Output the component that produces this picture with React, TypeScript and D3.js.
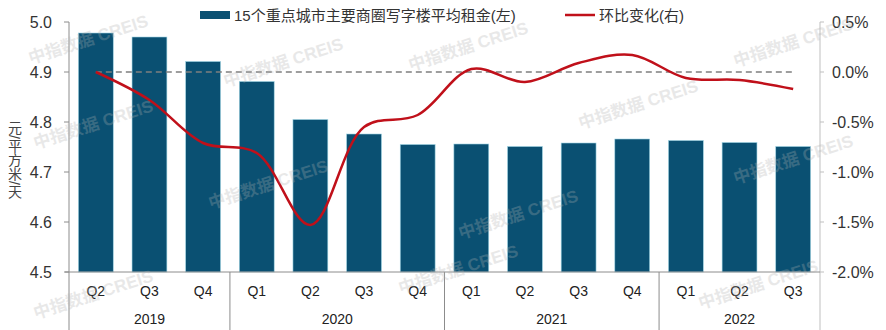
import React from "react";
import * as d3 from "d3";

const quarters = ["Q2", "Q3", "Q4", "Q1", "Q2", "Q3", "Q4", "Q1", "Q2", "Q3", "Q4", "Q1", "Q2", "Q3"];
const years = ["2019", "2020", "2021", "2022"];
const yearSpans = [3, 4, 4, 3];
const rent = [4.978, 4.970, 4.921, 4.881, 4.805, 4.776, 4.755, 4.756, 4.751, 4.758, 4.766, 4.763, 4.759, 4.751];
const change = [0.0, -0.28, -0.71, -0.81, -1.53, -0.55, -0.43, 0.03, -0.10, 0.09, 0.17, -0.06, -0.08, -0.17];
const leftTicks = [4.5, 4.6, 4.7, 4.8, 4.9, 5.0];
const rightTicks = [0.5, 0.0, -0.5, -1.0, -1.5, -2.0];
const barLabel = "15个重点城市主要商圈写字楼平均租金(左)";
const lineLabel = "环比变化(右)";
const yTitle = "元/平方米/天";
const watermarks = [
  [90, 45], [285, 68], [470, 52], [95, 130], [270, 190], [460, 275], [640, 110], [795, 48], [795, 165], [95, 300], [760, 290], [520, 220],
];

const W = 886, H = 330;
const L = 69, R = 820, T = 22, B = 272;
const FONT = "'Liberation Sans', Arial, 'Noto Sans CJK SC', sans-serif";

export default function App() {
  const keys = quarters.map((_, i) => String(i));
  const x = d3.scaleBand<string>().domain(keys).range([L, R]).paddingInner(0.35).paddingOuter(0.175);
  const yl = d3.scaleLinear().domain([4.5, 5.0]).range([B, T]);
  const yr = d3.scaleLinear().domain([-2.0, 0.5]).range([B, T]);
  const cx = (i: number) => (x(String(i)) as number) + x.bandwidth() / 2;
  const line = d3.line<number>().x((_, i) => cx(i)).y((d) => yr(d)).curve(d3.curveCatmullRom.alpha(0.5));
  const step = x.step();
  let acc = 0;
  const groups = yearSpans.map((n, gi) => {
    const x0 = L + acc * step;
    acc += n;
    const x1 = L + acc * step;
    return { name: years[gi], x0, x1 };
  });

  return (
    <svg width={W} height={H} style={{ display: "block", position: "absolute", left: 0, top: 0, background: "#fff" }} fontFamily={FONT}>
      {/* bars */}
      {rent.map((v, i) => (
        <rect key={i} x={x(String(i))} y={yl(v)} width={x.bandwidth()} height={B - yl(v)} fill="#0a5072" stroke="#9fd4e3" strokeWidth={0.6} />
      ))}
      {/* zero dashed line */}
      <line x1={cx(0)} x2={cx(quarters.length - 1)} y1={yr(0)} y2={yr(0)} stroke="#7f7f7f" strokeWidth={1.5} strokeDasharray="6,4" />
      {/* change line */}
      <path d={line(change) || ""} fill="none" stroke="#c0101a" strokeWidth={2.5} />
      {/* axes */}
      <line x1={L} x2={L} y1={T} y2={H} stroke="#8c8c8c" strokeWidth={1} />
      <line x1={R} x2={R} y1={T} y2={H} stroke="#bfbfbf" strokeWidth={1} />
      <line x1={L - 4} x2={R} y1={B} y2={B} stroke="#8c8c8c" strokeWidth={1} />
      {leftTicks.map((t) => (
        <g key={"l" + t}>
          <line x1={L - 5} x2={L} y1={yl(t)} y2={yl(t)} stroke="#8c8c8c" />
          <text x={52} y={yl(t)} dy="0.36em" textAnchor="end" fontSize={16} fill="#333">{t.toFixed(1)}</text>
        </g>
      ))}
      {rightTicks.map((t) => (
        <g key={"r" + t}>
          <line x1={R} x2={R + 4} y1={yr(t)} y2={yr(t)} stroke="#bfbfbf" />
          <text x={832} y={yr(t)} dy="0.36em" textAnchor="start" fontSize={16} fill="#333">{t.toFixed(1) + "%"}</text>
        </g>
      ))}
      {quarters.map((q, i) => (
        <text key={"q" + i} x={cx(i)} y={296} textAnchor="middle" fontSize={14} fill="#222">{q}</text>
      ))}
      {groups.map((g, i) => (
        <g key={"g" + i}>
          {i > 0 && <line x1={g.x0} x2={g.x0} y1={B} y2={H} stroke="#8c8c8c" />}
          <text x={(g.x0 + g.x1) / 2} y={324} textAnchor="middle" fontSize={14} fill="#222">{g.name}</text>
        </g>
      ))}
      {/* y title */}
      <text x={14} y={160} textAnchor="middle" fontSize={14} fill="#444" style={{ writingMode: "vertical-rl" }}>{yTitle}</text>
      {/* watermarks */}
      {watermarks.map(([wx, wy], i) => (
        <text key={"w" + i} x={wx} y={wy} textAnchor="middle" fontSize={17} fontWeight="bold" fill="#b0b0b0" opacity={0.28}
          transform={`rotate(-18 ${wx} ${wy})`}>中指数据 CREIS</text>
      ))}
      {/* legend */}
      <rect x={200} y={11} width={30} height={8} fill="#0a5072" />
      <text x={234} y={21} fontSize={15} fill="#333">{barLabel}</text>
      <line x1={565} x2={595} y1={15} y2={15} stroke="#c0101a" strokeWidth={2.5} />
      <text x={599} y={21} fontSize={15} fill="#333">{lineLabel}</text>
    </svg>
  );
}
